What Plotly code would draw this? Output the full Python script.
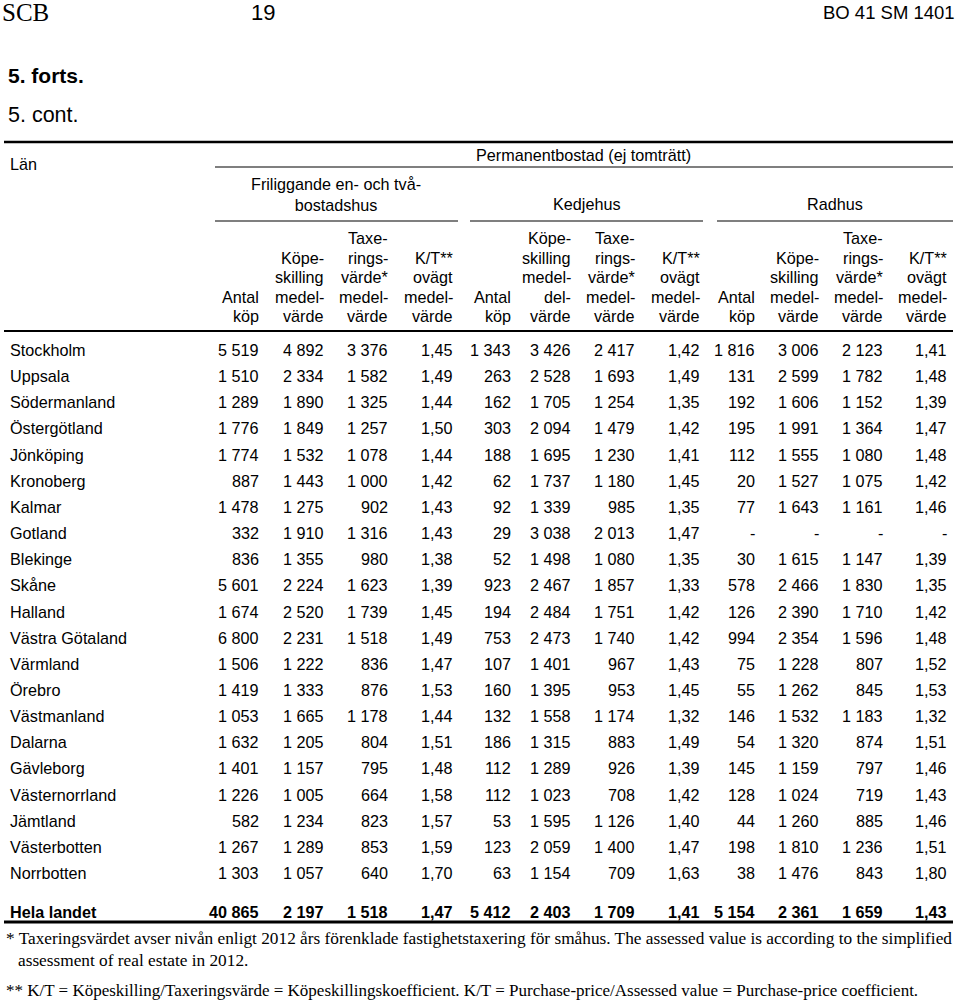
import plotly.graph_objects as go

# ---------------- data ----------------
lan = ["Stockholm", "Uppsala", "Södermanland", "Östergötland", "Jönköping", "Kronoberg",
       "Kalmar", "Gotland", "Blekinge", "Skåne", "Halland", "Västra Götaland", "Värmland",
       "Örebro", "Västmanland", "Dalarna", "Gävleborg", "Västernorrland", "Jämtland",
       "Västerbotten", "Norrbotten"]

# Friliggande en- och tvåbostadshus
fril_antal = [5519, 1510, 1289, 1776, 1774, 887, 1478, 332, 836, 5601, 1674, 6800, 1506, 1419, 1053, 1632, 1401, 1226, 582, 1267, 1303]
fril_kop = [4892, 2334, 1890, 1849, 1532, 1443, 1275, 1910, 1355, 2224, 2520, 2231, 1222, 1333, 1665, 1205, 1157, 1005, 1234, 1289, 1057]
fril_tax = [3376, 1582, 1325, 1257, 1078, 1000, 902, 1316, 980, 1623, 1739, 1518, 836, 876, 1178, 804, 795, 664, 823, 853, 640]
fril_kt = [1.45, 1.49, 1.44, 1.50, 1.44, 1.42, 1.43, 1.43, 1.38, 1.39, 1.45, 1.49, 1.47, 1.53, 1.44, 1.51, 1.48, 1.58, 1.57, 1.59, 1.70]

# Kedjehus
kedj_antal = [1343, 263, 162, 303, 188, 62, 92, 29, 52, 923, 194, 753, 107, 160, 132, 186, 112, 112, 53, 123, 63]
kedj_kop = [3426, 2528, 1705, 2094, 1695, 1737, 1339, 3038, 1498, 2467, 2484, 2473, 1401, 1395, 1558, 1315, 1289, 1023, 1595, 2059, 1154]
kedj_tax = [2417, 1693, 1254, 1479, 1230, 1180, 985, 2013, 1080, 1857, 1751, 1740, 967, 953, 1174, 883, 926, 708, 1126, 1400, 709]
kedj_kt = [1.42, 1.49, 1.35, 1.42, 1.41, 1.45, 1.35, 1.47, 1.35, 1.33, 1.42, 1.42, 1.43, 1.45, 1.32, 1.49, 1.39, 1.42, 1.40, 1.47, 1.63]

# Radhus (Gotland: no data)
rad_antal = [1816, 131, 192, 195, 112, 20, 77, None, 30, 578, 126, 994, 75, 55, 146, 54, 145, 128, 44, 198, 38]
rad_kop = [3006, 2599, 1606, 1991, 1555, 1527, 1643, None, 1615, 2466, 2390, 2354, 1228, 1262, 1532, 1320, 1159, 1024, 1260, 1810, 1476]
rad_tax = [2123, 1782, 1152, 1364, 1080, 1075, 1161, None, 1147, 1830, 1710, 1596, 807, 845, 1183, 874, 797, 719, 885, 1236, 843]
rad_kt = [1.41, 1.48, 1.39, 1.47, 1.48, 1.42, 1.46, None, 1.39, 1.35, 1.42, 1.48, 1.52, 1.53, 1.32, 1.51, 1.46, 1.43, 1.46, 1.51, 1.80]

# Hela landet
total_label = "Hela landet"
total_values = [40865, 2197, 1518, 1.47, 5412, 2403, 1709, 1.41, 5154, 2361, 1659, 1.43]

group_top = "Permanentbostad (ej tomträtt)"
groups = ["Friliggande en- och två-<br>bostadshus", "Kedjehus", "Radhus"]
col_headers = [
    ["Antal", "köp"],
    ["Köpe-", "skilling", "medel-", "värde"],
    ["Taxe-", "rings-", "värde*", "medel-", "värde"],
    ["K/T**", "ovägt", "medel-", "värde"],
    ["Antal", "köp"],
    ["Köpe-", "skilling", "medel-", "del-", "värde"],
    ["Taxe-", "rings-", "värde*", "medel-", "värde"],
    ["K/T**", "ovägt", "medel-", "värde"],
    ["Antal", "köp"],
    ["Köpe-", "skilling", "medel-", "värde"],
    ["Taxe-", "rings-", "värde*", "medel-", "värde"],
    ["K/T**", "ovägt", "medel-", "värde"],
]

footnote1 = ("* Taxeringsvärdet avser nivån enligt 2012 års förenklade fastighetstaxering för småhus. "
             "The assessed value is according to the simplified")
footnote1b = "assessment of real estate in 2012."
footnote2 = ("** K/T = Köpeskilling/Taxeringsvärde = Köpeskillingskoefficient. "
             "K/T = Purchase-price/Assessed value = Purchase-price coefficient.")

# ---------------- layout helpers ----------------
columns = [fril_antal, fril_kop, fril_tax, fril_kt,
           kedj_antal, kedj_kop, kedj_tax, kedj_kt,
           rad_antal, rad_kop, rad_tax, rad_kt]
col_right = [260, 325, 389, 454, 512, 572, 636, 701, 756, 820, 884, 948]

SANS = "Liberation Sans, Arial, Helvetica, sans-serif"
SERIF = "Liberation Serif, Times New Roman, serif"
FS = 16.2


def fmt(v):
    if v is None:
        return "-"
    if isinstance(v, float):
        return f"{v:.2f}".replace(".", ",")
    return f"{v:,}".replace(",", " ")


ann = []


def txt(x, y, s, anchor="left", size=FS, family=SANS, color="#000"):
    ann.append(dict(x=x, y=y, xref="x", yref="y", text=s, showarrow=False,
                    xanchor=anchor, yanchor="middle", borderpad=0,
                    font=dict(family=family, size=size, color=color)))


# page header
txt(1, 12, "SCB", "left", 25, SERIF)
txt(263, 12, "19", "center", 22, SANS)
txt(956, 12, "BO 41 SM 1401", "right", 18.5, SANS)
txt(7, 75, "<b>5. forts.</b>", "left", 21, SANS)
txt(7, 115, "5. cont.", "left", 21.5, SANS)

# table header
txt(9, 164, "Län")
txt(583, 155, group_top, "center")
txt(336, 194, groups[0], "center")
txt(587, 204, groups[1], "center")
txt(835, 204, groups[2], "center")

line_h = 19.4
bottom_y = 316
for c, lines in enumerate(col_headers):
    n = len(lines)
    for i, s in enumerate(lines):
        txt(col_right[c], bottom_y - (n - 1 - i) * line_h, s, "right")

# data rows
row0 = 350
row_h = 26.15
for r, name in enumerate(lan):
    y = row0 + r * row_h
    txt(9, y, name)
    for c, col in enumerate(columns):
        txt(col_right[c], y, fmt(col[r]), "right")

# total row
ty = 912
txt(9, ty, f"<b>{total_label}</b>")
for c, v in enumerate(total_values):
    txt(col_right[c], ty, f"<b>{fmt(v)}</b>", "right")

# footnotes
txt(5, 938, footnote1, "left", 17.3, SERIF)
txt(17, 960, footnote1b, "left", 17.3, SERIF)
txt(5, 990, footnote2, "left", 17.0, SERIF)

# rules
shapes = []


def hline(x0, x1, y, w):
    shapes.append(dict(type="line", xref="x", yref="y", x0=x0, x1=x1, y0=y, y1=y,
                       line=dict(color="#000", width=w)))


hline(4, 953, 142, 2.5)
hline(215, 953, 167, 1.2)
hline(215, 458, 221, 1.2)
hline(470, 703, 221, 1.2)
hline(717, 953, 221, 1.2)
hline(4, 953, 331, 2)
hline(4, 953, 922, 3)

fig = go.Figure()
fig.add_trace(go.Scatter(x=[0, 960], y=[0, 1000], mode="markers",
                         marker=dict(opacity=0), hoverinfo="skip", showlegend=False))
fig.update_layout(
    width=960, height=1000,
    margin=dict(l=0, r=0, t=0, b=0),
    paper_bgcolor="white", plot_bgcolor="white",
    xaxis=dict(range=[0, 960], visible=False, fixedrange=True),
    yaxis=dict(range=[1000, 0], visible=False, fixedrange=True),
    annotations=ann, shapes=shapes, showlegend=False,
)
fig.write_html("out.html", config={"displayModeBar": False},
               post_script="document.body.style.margin='0px';document.body.style.overflow='hidden';")
